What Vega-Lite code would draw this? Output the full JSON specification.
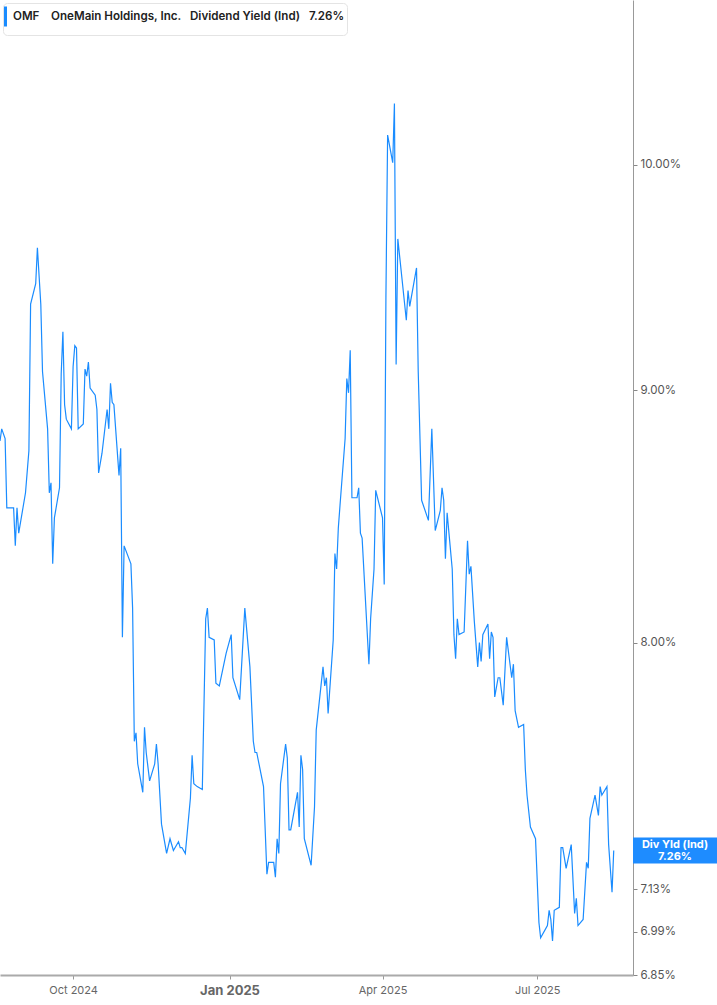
{
  "$schema": "https://vega.github.io/schema/vega-lite/v6.json",
  "width": 633,
  "height": 975,
  "padding": 0,
  "background": "white",
  "datasets": {
    "yield": [
      {"date": "2024-08-19", "yield": 8.79}, {"date": "2024-08-20", "yield": 8.84}, {"date": "2024-08-22", "yield": 8.80},
      {"date": "2024-08-23", "yield": 8.52}, {"date": "2024-08-26", "yield": 8.52}, {"date": "2024-08-27", "yield": 8.52},
      {"date": "2024-08-28", "yield": 8.37}, {"date": "2024-08-29", "yield": 8.52}, {"date": "2024-08-30", "yield": 8.42},
      {"date": "2024-09-03", "yield": 8.58}, {"date": "2024-09-05", "yield": 8.75}, {"date": "2024-09-06", "yield": 9.37},
      {"date": "2024-09-09", "yield": 9.46}, {"date": "2024-09-10", "yield": 9.62}, {"date": "2024-09-12", "yield": 9.37},
      {"date": "2024-09-13", "yield": 9.08}, {"date": "2024-09-16", "yield": 8.84}, {"date": "2024-09-17", "yield": 8.58},
      {"date": "2024-09-18", "yield": 8.62}, {"date": "2024-09-19", "yield": 8.30}, {"date": "2024-09-20", "yield": 8.48},
      {"date": "2024-09-23", "yield": 8.60}, {"date": "2024-09-24", "yield": 9.07}, {"date": "2024-09-25", "yield": 9.25},
      {"date": "2024-09-26", "yield": 8.94}, {"date": "2024-09-27", "yield": 8.88}, {"date": "2024-09-30", "yield": 8.84},
      {"date": "2024-10-01", "yield": 9.10}, {"date": "2024-10-02", "yield": 9.19}, {"date": "2024-10-03", "yield": 9.18},
      {"date": "2024-10-04", "yield": 8.84}, {"date": "2024-10-07", "yield": 8.86}, {"date": "2024-10-08", "yield": 9.09},
      {"date": "2024-10-09", "yield": 9.06}, {"date": "2024-10-10", "yield": 9.12}, {"date": "2024-10-11", "yield": 9.01},
      {"date": "2024-10-14", "yield": 8.98}, {"date": "2024-10-15", "yield": 8.92}, {"date": "2024-10-16", "yield": 8.66},
      {"date": "2024-10-18", "yield": 8.74}, {"date": "2024-10-21", "yield": 8.92}, {"date": "2024-10-22", "yield": 8.84},
      {"date": "2024-10-23", "yield": 9.03}, {"date": "2024-10-24", "yield": 8.95}, {"date": "2024-10-25", "yield": 8.94},
      {"date": "2024-10-28", "yield": 8.65}, {"date": "2024-10-29", "yield": 8.76}, {"date": "2024-10-30", "yield": 8.02},
      {"date": "2024-10-31", "yield": 8.37}, {"date": "2024-11-04", "yield": 8.30}, {"date": "2024-11-05", "yield": 8.13},
      {"date": "2024-11-06", "yield": 7.64}, {"date": "2024-11-07", "yield": 7.67}, {"date": "2024-11-08", "yield": 7.56},
      {"date": "2024-11-11", "yield": 7.46}, {"date": "2024-11-12", "yield": 7.69}, {"date": "2024-11-13", "yield": 7.60},
      {"date": "2024-11-15", "yield": 7.50}, {"date": "2024-11-18", "yield": 7.56}, {"date": "2024-11-19", "yield": 7.63},
      {"date": "2024-11-20", "yield": 7.56}, {"date": "2024-11-22", "yield": 7.35}, {"date": "2024-11-25", "yield": 7.25},
      {"date": "2024-11-27", "yield": 7.30}, {"date": "2024-11-29", "yield": 7.26}, {"date": "2024-12-02", "yield": 7.29},
      {"date": "2024-12-03", "yield": 7.27}, {"date": "2024-12-04", "yield": 7.27}, {"date": "2024-12-06", "yield": 7.25},
      {"date": "2024-12-09", "yield": 7.44}, {"date": "2024-12-10", "yield": 7.59}, {"date": "2024-12-11", "yield": 7.49},
      {"date": "2024-12-13", "yield": 7.48}, {"date": "2024-12-16", "yield": 7.47}, {"date": "2024-12-18", "yield": 8.09},
      {"date": "2024-12-19", "yield": 8.13}, {"date": "2024-12-20", "yield": 8.02}, {"date": "2024-12-23", "yield": 8.01},
      {"date": "2024-12-24", "yield": 7.85}, {"date": "2024-12-26", "yield": 7.84}, {"date": "2024-12-30", "yield": 7.96},
      {"date": "2025-01-02", "yield": 8.03}, {"date": "2025-01-03", "yield": 7.87}, {"date": "2025-01-07", "yield": 7.79},
      {"date": "2025-01-10", "yield": 8.13}, {"date": "2025-01-13", "yield": 7.91}, {"date": "2025-01-15", "yield": 7.64},
      {"date": "2025-01-16", "yield": 7.60}, {"date": "2025-01-17", "yield": 7.60}, {"date": "2025-01-21", "yield": 7.48},
      {"date": "2025-01-23", "yield": 7.18}, {"date": "2025-01-24", "yield": 7.22}, {"date": "2025-01-27", "yield": 7.22},
      {"date": "2025-01-28", "yield": 7.17}, {"date": "2025-01-29", "yield": 7.30}, {"date": "2025-01-30", "yield": 7.25},
      {"date": "2025-01-31", "yield": 7.49}, {"date": "2025-02-03", "yield": 7.63}, {"date": "2025-02-04", "yield": 7.58},
      {"date": "2025-02-05", "yield": 7.33}, {"date": "2025-02-06", "yield": 7.33}, {"date": "2025-02-10", "yield": 7.46},
      {"date": "2025-02-11", "yield": 7.34}, {"date": "2025-02-12", "yield": 7.59}, {"date": "2025-02-13", "yield": 7.54},
      {"date": "2025-02-14", "yield": 7.30}, {"date": "2025-02-18", "yield": 7.21}, {"date": "2025-02-20", "yield": 7.41},
      {"date": "2025-02-21", "yield": 7.68}, {"date": "2025-02-25", "yield": 7.91}, {"date": "2025-02-26", "yield": 7.84},
      {"date": "2025-02-27", "yield": 7.87}, {"date": "2025-02-28", "yield": 7.74}, {"date": "2025-03-03", "yield": 8.01},
      {"date": "2025-03-04", "yield": 8.34}, {"date": "2025-03-05", "yield": 8.28}, {"date": "2025-03-06", "yield": 8.44},
      {"date": "2025-03-07", "yield": 8.53}, {"date": "2025-03-10", "yield": 8.80}, {"date": "2025-03-11", "yield": 9.05},
      {"date": "2025-03-12", "yield": 8.99}, {"date": "2025-03-13", "yield": 9.17}, {"date": "2025-03-14", "yield": 8.56},
      {"date": "2025-03-17", "yield": 8.56}, {"date": "2025-03-18", "yield": 8.60}, {"date": "2025-03-19", "yield": 8.42},
      {"date": "2025-03-20", "yield": 8.40}, {"date": "2025-03-24", "yield": 7.92}, {"date": "2025-03-25", "yield": 8.09},
      {"date": "2025-03-27", "yield": 8.28}, {"date": "2025-03-28", "yield": 8.59}, {"date": "2025-04-01", "yield": 8.48},
      {"date": "2025-04-02", "yield": 8.22}, {"date": "2025-04-03", "yield": 9.40}, {"date": "2025-04-04", "yield": 10.14},
      {"date": "2025-04-07", "yield": 10.01}, {"date": "2025-04-08", "yield": 10.29}, {"date": "2025-04-09", "yield": 9.11},
      {"date": "2025-04-10", "yield": 9.66}, {"date": "2025-04-15", "yield": 9.30}, {"date": "2025-04-16", "yield": 9.43},
      {"date": "2025-04-17", "yield": 9.36}, {"date": "2025-04-21", "yield": 9.53}, {"date": "2025-04-22", "yield": 9.08},
      {"date": "2025-04-24", "yield": 8.55}, {"date": "2025-04-28", "yield": 8.47}, {"date": "2025-04-30", "yield": 8.84},
      {"date": "2025-05-02", "yield": 8.43}, {"date": "2025-05-05", "yield": 8.51}, {"date": "2025-05-06", "yield": 8.60},
      {"date": "2025-05-07", "yield": 8.55}, {"date": "2025-05-08", "yield": 8.32}, {"date": "2025-05-09", "yield": 8.50},
      {"date": "2025-05-12", "yield": 8.28}, {"date": "2025-05-13", "yield": 8.03}, {"date": "2025-05-14", "yield": 7.94},
      {"date": "2025-05-15", "yield": 8.09}, {"date": "2025-05-16", "yield": 8.03}, {"date": "2025-05-19", "yield": 8.04},
      {"date": "2025-05-21", "yield": 8.39}, {"date": "2025-05-22", "yield": 8.26}, {"date": "2025-05-23", "yield": 8.29},
      {"date": "2025-05-25", "yield": 8.08}, {"date": "2025-05-27", "yield": 7.91}, {"date": "2025-05-28", "yield": 8.00},
      {"date": "2025-05-29", "yield": 7.93}, {"date": "2025-05-30", "yield": 8.03}, {"date": "2025-06-02", "yield": 8.07},
      {"date": "2025-06-03", "yield": 7.94}, {"date": "2025-06-04", "yield": 8.04}, {"date": "2025-06-05", "yield": 8.02},
      {"date": "2025-06-06", "yield": 7.80}, {"date": "2025-06-08", "yield": 7.87}, {"date": "2025-06-09", "yield": 7.87},
      {"date": "2025-06-11", "yield": 7.77}, {"date": "2025-06-13", "yield": 8.02}, {"date": "2025-06-16", "yield": 7.87},
      {"date": "2025-06-17", "yield": 7.92}, {"date": "2025-06-18", "yield": 7.75}, {"date": "2025-06-20", "yield": 7.69},
      {"date": "2025-06-23", "yield": 7.70}, {"date": "2025-06-24", "yield": 7.54}, {"date": "2025-06-25", "yield": 7.45},
      {"date": "2025-06-27", "yield": 7.34}, {"date": "2025-06-30", "yield": 7.30}, {"date": "2025-07-02", "yield": 7.02},
      {"date": "2025-07-03", "yield": 6.97}, {"date": "2025-07-07", "yield": 7.01}, {"date": "2025-07-08", "yield": 7.06},
      {"date": "2025-07-09", "yield": 7.03}, {"date": "2025-07-10", "yield": 6.96}, {"date": "2025-07-11", "yield": 7.06},
      {"date": "2025-07-14", "yield": 7.07}, {"date": "2025-07-15", "yield": 7.27}, {"date": "2025-07-16", "yield": 7.27},
      {"date": "2025-07-18", "yield": 7.20}, {"date": "2025-07-21", "yield": 7.28}, {"date": "2025-07-23", "yield": 7.05},
      {"date": "2025-07-24", "yield": 7.10}, {"date": "2025-07-25", "yield": 7.01}, {"date": "2025-07-28", "yield": 7.03},
      {"date": "2025-07-30", "yield": 7.22}, {"date": "2025-07-31", "yield": 7.20}, {"date": "2025-08-01", "yield": 7.37},
      {"date": "2025-08-04", "yield": 7.45}, {"date": "2025-08-06", "yield": 7.38}, {"date": "2025-08-07", "yield": 7.48},
      {"date": "2025-08-08", "yield": 7.45}, {"date": "2025-08-11", "yield": 7.48}, {"date": "2025-08-12", "yield": 7.28},
      {"date": "2025-08-14", "yield": 7.12}, {"date": "2025-08-15", "yield": 7.26}
    ],
    "latest": [
      {"label": "Div Yld (Ind)\n7.26%", "value": 7.26}
    ]
  },
  "layer": [
    {
      "data": {"name": "yield"},
      "mark": {"type": "line", "strokeWidth": 1.2, "clip": true},
      "encoding": {
        "x": {
          "field": "date",
          "type": "temporal",
          "scale": {
            "type": "utc",
            "domain": [
              {"year": 2024, "month": 8, "date": 19, "utc": true},
              {"year": 2025, "month": 8, "date": 26, "hours": 8, "utc": true}
            ]
          },
          "axis": {
            "title": null,
            "grid": false,
            "values": [
              {"year": 2024, "month": 10, "date": 1, "utc": true},
              {"year": 2025, "month": 1, "date": 1, "utc": true},
              {"year": 2025, "month": 4, "date": 1, "utc": true},
              {"year": 2025, "month": 7, "date": 1, "utc": true}
            ],
            "labelExpr": "utcFormat(datum.value, '%b %Y')",
            "labelFontWeight": {"condition": {"test": "utcmonth(datum.value) === 0", "value": "bold"}, "value": "normal"},
            "labelFontSize": {"condition": {"test": "utcmonth(datum.value) === 0", "value": 13}, "value": 11},
            "labelColor": "#666",
            "labelPadding": 5,
            "tickSize": 4,
            "tickColor": "#999",
            "domainColor": "#aaa",
            "domainWidth": 2
          }
        },
        "y": {
          "field": "yield",
          "type": "quantitative",
          "scale": {"type": "log", "domain": [6.85, 10.8], "nice": false},
          "axis": {
            "orient": "right",
            "title": null,
            "grid": false,
            "values": [6.85, 6.99, 7.13, 8, 9, 10],
            "labelExpr": "format(datum.value, '.2f') + '%'",
            "labelColor": "#555",
            "labelFontSize": 11.5,
            "labelPadding": 3,
            "tickSize": 4,
            "tickColor": "#888",
            "domainColor": "#999"
          }
        },
        "color": {
          "datum": "OMF\u00a0\u00a0\u00a0\u00a0OneMain Holdings, Inc.\u00a0\u00a0\u00a0Dividend Yield (Ind)\u00a0\u00a0\u00a07.26%",
          "scale": {"range": ["#1a8cff"]},
          "legend": {
            "title": null,
            "orient": "top-left",
            "offset": 3,
            "padding": 2,
            "fillColor": "white",
            "strokeColor": "#e4e4e4",
            "cornerRadius": 4,
            "symbolType": "M-1.1,-1V1",
            "symbolSize": 400,
            "symbolStrokeWidth": 3,
            "labelFont": "Inter",
            "labelFontSize": 11.6,
            "labelFontWeight": 600,
            "labelColor": "#222",
            "labelOffset": -15,
            "labelLimit": 600
          }
        }
      }
    },
    {
      "data": {"name": "latest"},
      "mark": {"type": "rect", "color": "#1e8cff", "x2Offset": 84, "yOffset": -13, "y2Offset": 13},
      "encoding": {
        "x": {"value": "width"},
        "x2": {"value": "width"},
        "y": {"field": "value", "type": "quantitative"},
        "y2": {"field": "value"}
      }
    },
    {
      "data": {"name": "latest"},
      "mark": {"type": "text", "color": "white", "fontWeight": "bold", "fontSize": 11, "lineBreak": "\n", "lineHeight": 12, "dx": 42, "dy": -6, "align": "center", "baseline": "middle"},
      "encoding": {
        "x": {"value": "width"},
        "y": {"field": "value", "type": "quantitative"},
        "text": {"field": "label"}
      }
    }
  ],
  "config": {
    "view": {"stroke": null},
    "font": "Inter",
    "axis": {"labelFont": "Inter"}
  }
}
